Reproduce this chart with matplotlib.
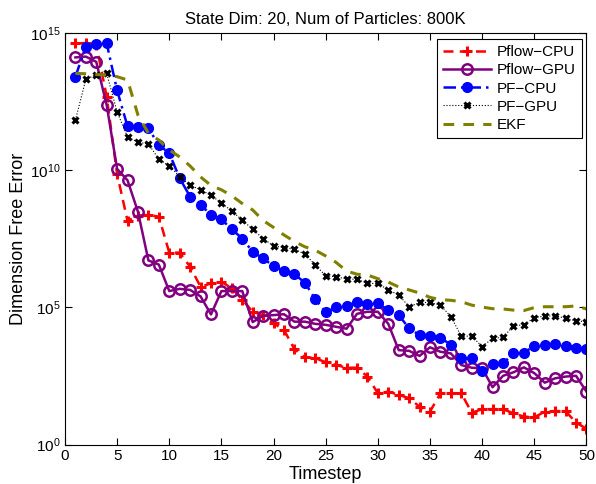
import matplotlib
matplotlib.use("Agg")
import matplotlib.pyplot as plt
from matplotlib.ticker import NullLocator

plt.rcParams['font.family'] = ['Liberation Sans', 'DejaVu Sans']
plt.rcParams['mathtext.default'] = 'regular'

timestep = list(range(1, 51))

pflow_cpu = [4.1e14, 4.2e14, 3.7e14, 4.7e12, 7.1e9, 1.4e8, 2.2e8, 2.3e8, 2.0e8, 9.8e6,
             9.8e6, 3.0e6, 5.6e5, 7.4e5, 8.5e5, 4.9e5, 1.9e5, 6.9e4, 5.2e4, 2.6e4,
             1.5e4, 3.0e3, 1.5e3, 1.4e3, 1.0e3, 7.9e2, 6.3e2, 6.3e2, 3.0e2, 74,
             85, 65, 49, 24, 16, 74, 74, 74, 14.5, 19.5,
             19.5, 19.5, 13.8, 10.5, 9.8, 16, 16.6, 16.6, 6.3, 3.8]

pflow_gpu = [1.26e14, 1.35e14, 8.7e13, 2.3e12, 1.1e10, 4.2e9, 3.0e8, 5.1e6, 3.6e6, 3.9e5,
             4.7e5, 4.3e5, 2.5e5, 5.5e4, 3.9e5, 3.9e5, 3.9e5, 2.9e4, 4.9e4, 5.2e4,
             5.6e4, 3.0e4, 3.0e4, 2.5e4, 2.3e4, 1.95e4, 1.66e4, 5.8e4, 6.9e4, 6.9e4,
             2.5e4, 2.75e3, 2.6e3, 1.7e3, 3.5e3, 2.4e3, 2.1e3, 7.9e2, 6.3e2, 6.0e2,
             1.23e2, 3.2e2, 4.3e2, 6.5e2, 4.0e2, 1.8e2, 2.6e2, 3.0e2, 3.2e2, 85]

pf_cpu = [2.5e13, 3.1e14, 3.9e14, 4.1e14, 7.9e12, 3.9e11, 3.8e11, 3.3e11, 8.1e10, 4.1e10,
          5.0e9, 1.07e9, 5.5e8, 2.3e8, 1.6e8, 6.9e7, 3.2e7, 1.05e7, 6.0e6, 3.2e6,
          2.1e6, 1.6e6, 7.9e5, 1.95e5, 6.6e4, 1.0e5, 1.12e5, 1.6e5, 1.3e5, 1.4e5,
          7.9e4, 5.2e4, 1.7e4, 9.8e3, 8.9e3, 7.8e3, 4.3e3, 1.4e3, 1.4e3, 4.8e2,
          8.3e2, 9.1e2, 2.1e3, 2.2e3, 4.0e3, 4.3e3, 4.5e3, 3.9e3, 3.2e3, 3.0e3]

pf_gpu = [6.5e11, 2.0e13, 3.0e13, 3.3e13, 1.3e12, 1.6e11, 1.02e11, 8.9e10, 2.5e10, 1.4e10,
          5.8e9, 2.8e9, 1.9e9, 1.2e9, 6.3e8, 3.2e8, 1.5e8, 6.9e7, 3.2e7, 1.7e7,
          1.5e7, 1.3e7, 8.7e6, 3.5e6, 1.4e6, 1.3e6, 1.07e6, 1.05e6, 7.4e5, 7.4e5,
          4.3e5, 2.8e5, 1.05e5, 1.5e5, 1.5e5, 1.2e5, 4.6e4, 8.9e3, 8.9e3, 3.7e3,
          7.4e3, 8.1e3, 2.1e4, 2.3e4, 4.2e4, 4.8e4, 4.9e4, 4.0e4, 3.2e4, 3.0e4]

ekf = [3.3e13, 3.2e13, 3.0e13, 2.9e13, 2.5e13, 1.9e13, 1.0e12, 2.2e11, 1.23e11, 5.4e10,
       3.0e10, 1.4e10, 5.6e9, 2.75e9, 1.9e9, 1.15e9, 6.0e8, 3.5e8, 1.45e8, 8.1e7,
       4.3e7, 2.5e7, 1.6e7, 1.2e7, 7.4e6, 4.3e6, 2.1e6, 1.6e6, 1.5e6, 1.1e6,
       8.3e5, 5.5e5, 4.3e5, 3.3e5, 2.3e5, 1.9e5, 1.8e5, 1.6e5, 1.2e5, 1.02e5,
       8.9e4, 8.7e4, 7.9e4, 7.6e4, 9.8e4, 1.05e5, 1.05e5, 1.05e5, 1.12e5, 8.7e4]

fig = plt.figure(figsize=(5.96, 4.84), dpi=100)
ax = fig.add_axes([0.109, 0.0814, 0.875, 0.851])

ax.plot(timestep, pflow_cpu, color='red', lw=1.8, dashes=(4, 2.5), marker='+', ms=7.5,
        mew=2.2, label='Pflow\u2212CPU')
ax.plot(timestep, pflow_gpu, '-', color='#800080', lw=1.8, marker='o', ms=7.5, mew=1.8,
        mfc='none', label='Pflow\u2212GPU')
ax.plot(timestep, pf_cpu, color='blue', lw=1.8, dashes=(5, 2, 1, 2), marker='o', ms=7,
        label='PF\u2212CPU')
ax.plot(timestep, pf_gpu, ':', color='black', lw=0.8, marker='x', ms=5, mew=2.2,
        label='PF\u2212GPU')
ax.plot(timestep, ekf, color='#808000', lw=2.2, dashes=(3.5, 3), label='EKF')

ax.set_yscale('log')
ax.set_xlim(0, 50)
ax.set_ylim(1, 1e15)
ax.set_xticks(range(0, 51, 5))
ax.set_yticks([1, 1e5, 1e10, 1e15])
ax.yaxis.set_minor_locator(NullLocator())
ax.tick_params(direction='in', top=True, right=True, labelsize=11, length=5, width=0.8)
for s in ax.spines.values():
    s.set_linewidth(0.8)

ax.set_title('State Dim: 20, Num of Particles: 800K', fontsize=12, pad=6)
ax.set_xlabel('Timestep', fontsize=13, labelpad=2)
ax.set_ylabel('Dimension Free Error', fontsize=13, labelpad=2)

leg = ax.legend(loc='upper right', bbox_to_anchor=(0.991, 0.985), borderaxespad=0,
                fancybox=False, edgecolor='black', fontsize=11, handlelength=3.1,
                labelspacing=0.28, borderpad=0.4, handletextpad=0.4, framealpha=1)
leg.get_frame().set_linewidth(0.8)

fig.savefig('out.png', dpi=100)
